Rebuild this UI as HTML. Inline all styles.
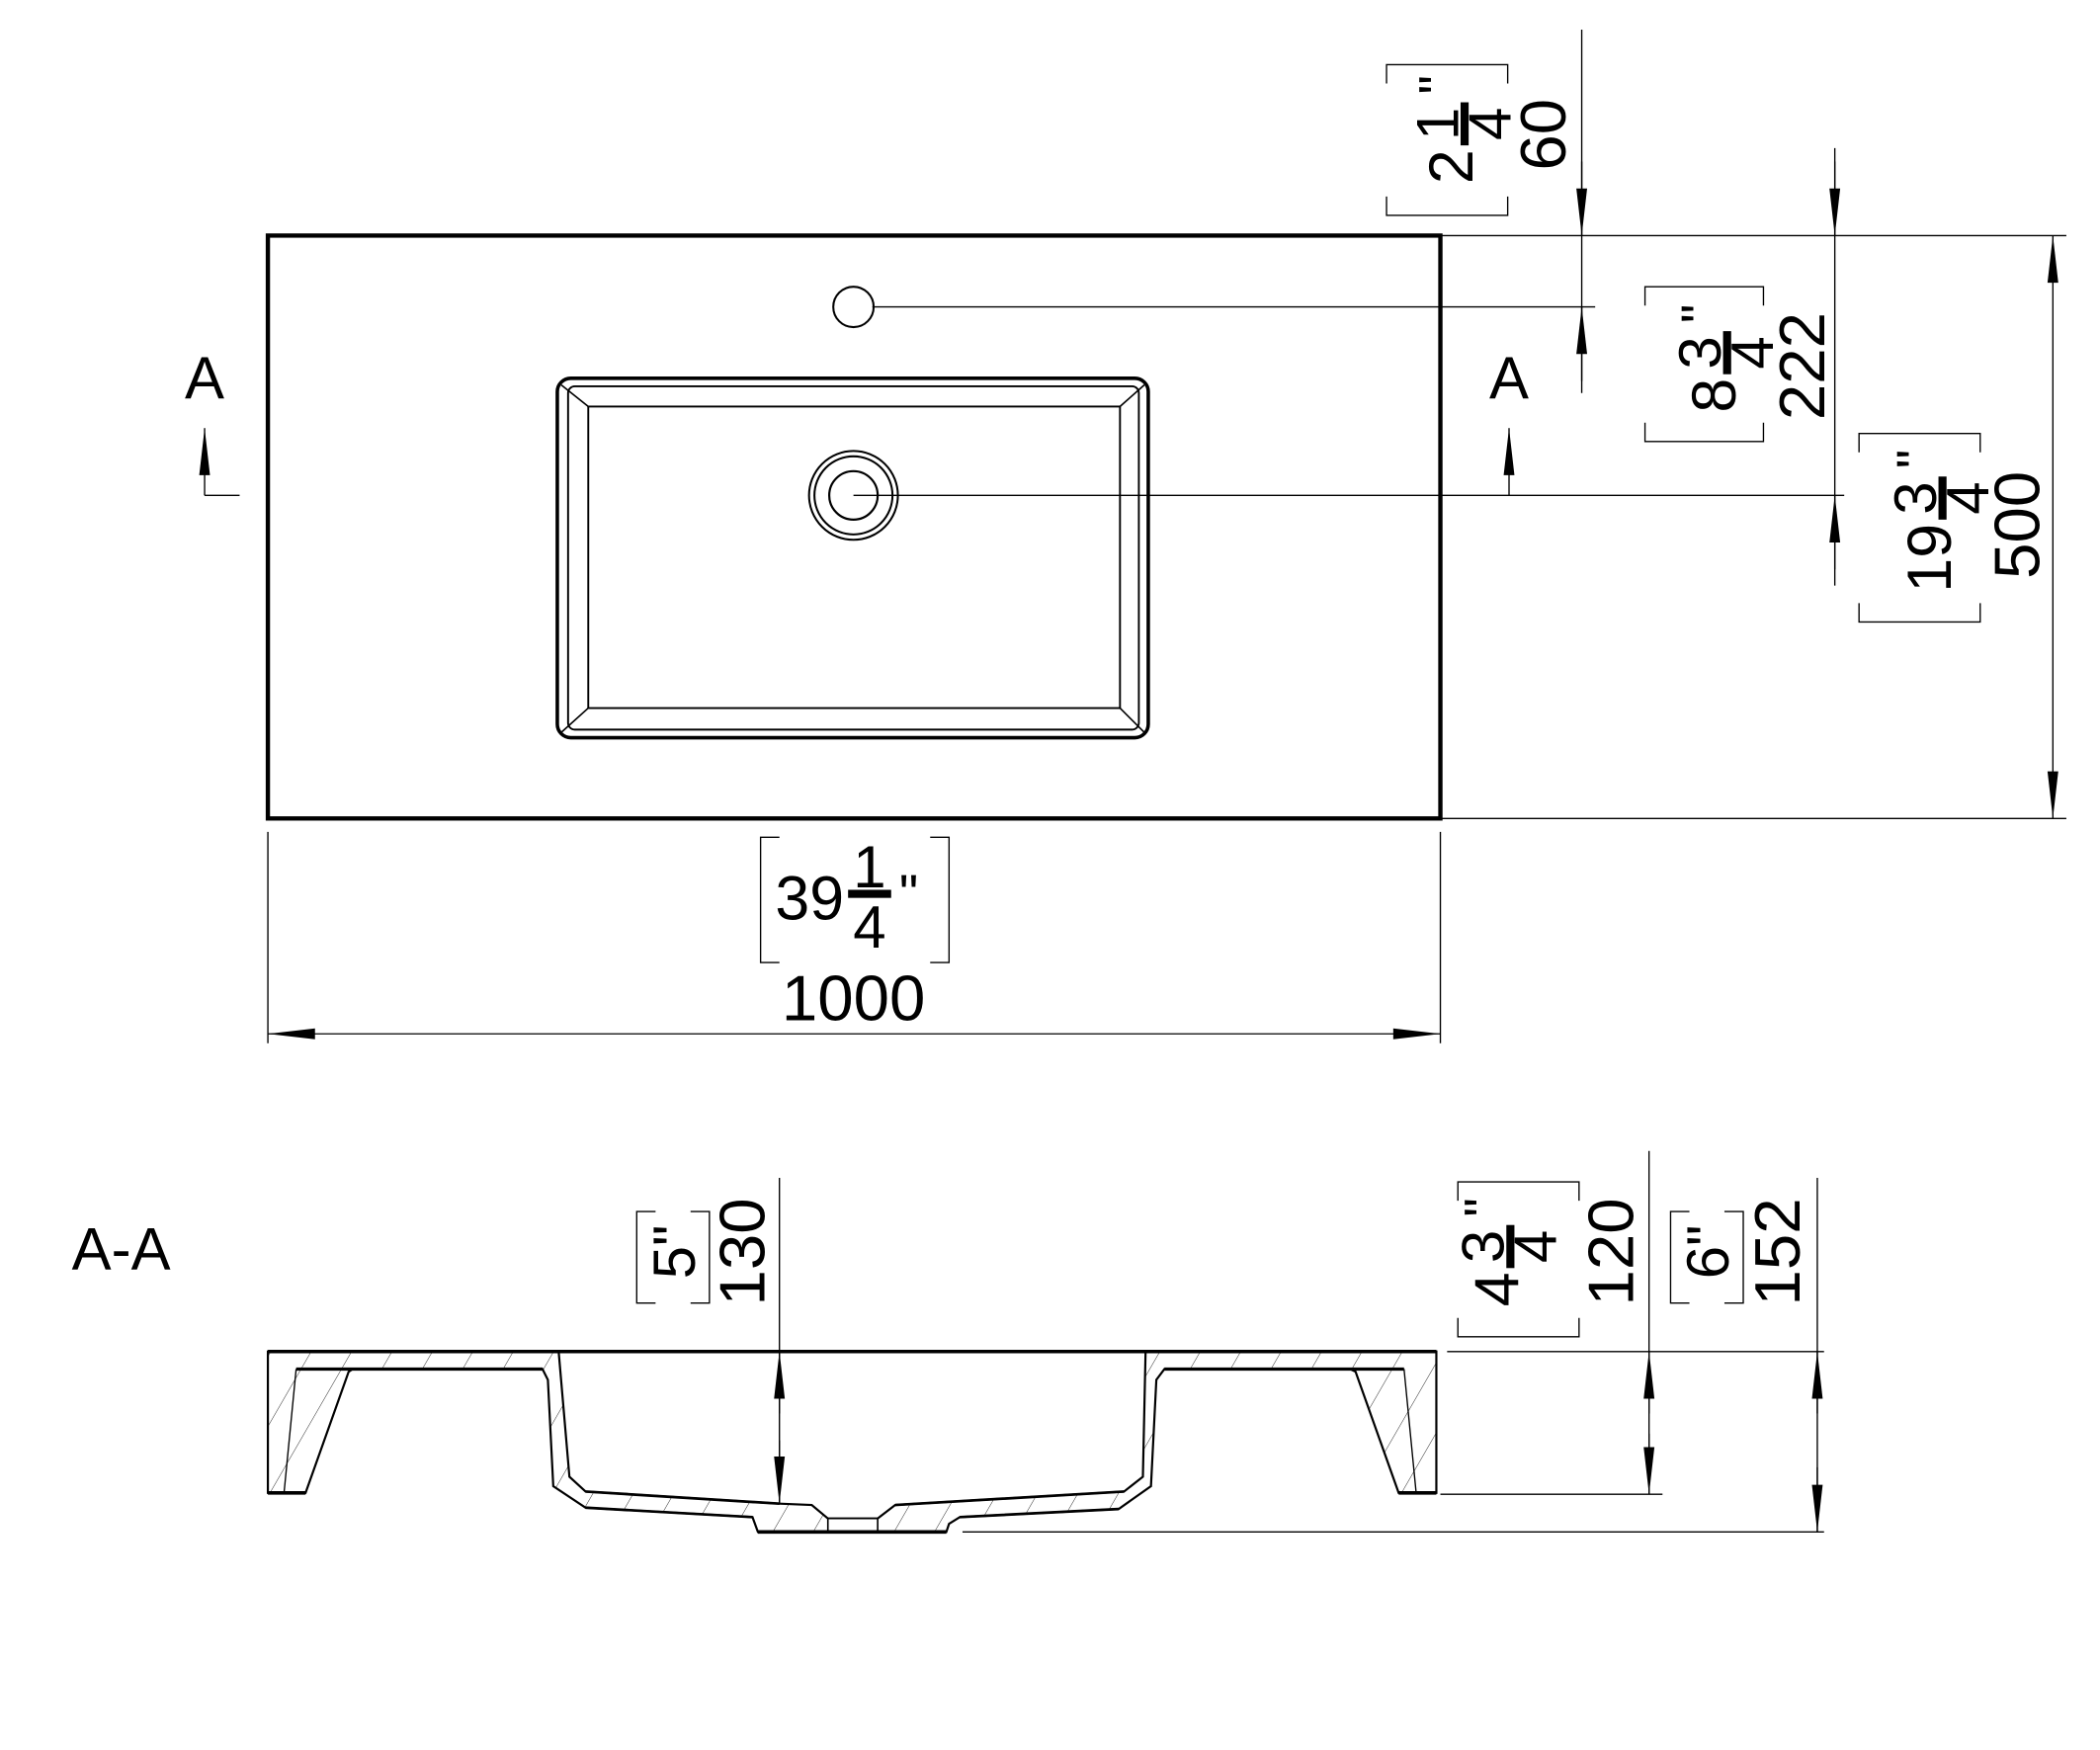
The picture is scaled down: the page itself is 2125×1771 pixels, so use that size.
<!DOCTYPE html>
<html><head><meta charset="utf-8"><style>
html,body{margin:0;padding:0;background:#fff;}
svg{display:block;}
text{font-family:"Liberation Sans",sans-serif;fill:#000;}
</style></head><body>
<svg width="2125" height="1771" viewBox="0 0 1560 1300" preserveAspectRatio="none" xmlns="http://www.w3.org/2000/svg">
<defs>
<marker id="a" markerUnits="userSpaceOnUse" markerWidth="40" markerHeight="12" viewBox="-36 -6 37 12" refX="0" refY="0" orient="auto-start-reverse">
<path d="M0,0 L-35,-4 L-35,4 z" fill="#000"/>
</marker>
<pattern id="h" patternUnits="userSpaceOnUse" width="26" height="26" patternTransform="rotate(30)">
<line x1="0" y1="0" x2="0" y2="26" stroke="#000" stroke-width="0.6"/>
</pattern>
</defs>
<rect width="1560" height="1300" fill="#fff"/>
<g fill="none" stroke="#000">
<rect x="199" y="175" width="871" height="433" stroke-width="3.2"/>
<circle cx="634" cy="228" r="15" stroke-width="1.5"/>
<rect x="414" y="281" width="439" height="267" rx="10" stroke-width="2.6"/>
<rect x="422" y="287" width="424" height="255" rx="5" stroke-width="1.4"/>
<rect x="437" y="302" width="395" height="224" stroke-width="1.4"/>
<path d="M417,286 L437,302 M850,286 L832,302 M417,544 L437,526 M850,544 L832,526" stroke-width="1.2"/>
<circle cx="634" cy="368" r="33" stroke-width="1.5"/>
<circle cx="634" cy="368" r="29" stroke-width="1.5"/>
<circle cx="634" cy="368" r="18" stroke-width="1.6"/>
<g stroke-width="1">
<line x1="648" y1="228" x2="1185" y2="228"/>
<line x1="634" y1="368" x2="1370" y2="368"/>
<line x1="1070" y1="175" x2="1535" y2="175"/>
<line x1="1070" y1="608" x2="1535" y2="608"/>
<line x1="1175" y1="22" x2="1175" y2="292"/>
<line x1="1363" y1="110" x2="1363" y2="435"/>
<line x1="199" y1="618" x2="199" y2="775"/>
<line x1="1070" y1="618" x2="1070" y2="775"/>
<line x1="152" y1="368" x2="178" y2="368"/>
</g>
<g stroke-width="1">
<path d="M1175,120 L1175,175" marker-end="url(#a)"/>
<path d="M1175,283 L1175,228" marker-end="url(#a)"/>
<path d="M1363,120 L1363,175" marker-end="url(#a)"/>
<path d="M1363,423 L1363,368" marker-end="url(#a)"/>
<path d="M1525,175 L1525,608" marker-start="url(#a)" marker-end="url(#a)"/>
<path d="M199,768 L1070,768" marker-start="url(#a)" marker-end="url(#a)"/>
<path d="M152,368 L152,318" marker-end="url(#a)"/>
<path d="M1121,368 L1121,318" marker-end="url(#a)"/>
</g>
<g stroke-width="1">
<path d="M1030,62 V48 H1120 V62 M1030,146 V160 H1120 V146"/>
<path d="M1222,227 V213 H1310 V227 M1222,314 V328 H1310 V314"/>
<path d="M1381,336 V322 H1471 V336 M1381,448 V462 H1471 V448"/>
<path d="M1083,892 V878 H1173 V892 M1083,979 V993 H1173 V979"/>
<path d="M487,900 H473 V968 H487 M513,900 H527 V968 H513"/>
<path d="M1255,900 H1241 V968 H1255 M1281,900 H1295 V968 H1281"/>
<path d="M579,622 H565 V715 H579 M691,622 H705 V715 H691"/>
</g>
<path d="M199,1004 H1067 V1109 H1039 L1007,1019 L1003,1017 H865 L859,1025 L855,1104 L831,1121 L713,1127 L705,1132 L703,1138 H563 L559,1127 L435,1120 L411,1104 L407,1025 L403,1017 H262 L259,1019 L227,1109 H199 Z" fill="url(#h)" stroke-width="1.6"/>
<path d="M415,1004 L423,1097 L435,1108 L579,1117 L603,1118 L615,1128 H652 L665,1118 L835,1108 L849,1097 L851,1004 Z" fill="#fff" stroke-width="1.6"/>
<rect x="615" y="1128" width="37" height="10" fill="#fff" stroke-width="1.2"/>
<path d="M199,1004 H1067" stroke-width="2.6"/>
<path d="M220,1017 H403 M865,1017 H1043" stroke-width="2.4"/>
<path d="M199,1109 H227 M1039,1109 H1067 M563,1138 H703" stroke-width="2.6"/>
<path d="M435,1108 L579,1117 M665,1118 L835,1108 M435,1120 L559,1127 M713,1127 L831,1121" stroke-width="2"/>
<path d="M220,1017 L211,1109 M1043,1017 L1052,1109" stroke-width="1"/>
<g stroke-width="1">
<line x1="579" y1="875" x2="579" y2="1117"/>
<line x1="1225" y1="855" x2="1225" y2="1110"/>
<line x1="1350" y1="875" x2="1350" y2="1138"/>
<line x1="1070" y1="1110" x2="1235" y2="1110"/>
<line x1="715" y1="1138" x2="1355" y2="1138"/>
<line x1="1075" y1="1004" x2="1355" y2="1004"/>
<path d="M579,1050 L579,1004" marker-end="url(#a)"/>
<path d="M579,1070 L579,1117" marker-end="url(#a)"/>
<path d="M1225,1050 L1225,1004" marker-end="url(#a)"/>
<path d="M1225,1065 L1225,1110" marker-end="url(#a)"/>
<path d="M1350,1050 L1350,1004" marker-end="url(#a)"/>
<path d="M1350,1090 L1350,1138" marker-end="url(#a)"/>
</g>
</g>
<text x="152" y="296" font-size="44" text-anchor="middle">A</text>
<text x="1121" y="296" font-size="44" text-anchor="middle">A</text>
<text x="90" y="943" font-size="44" text-anchor="middle">A-A</text>
<text x="634" y="758" font-size="48" text-anchor="middle">1000</text>
<g font-size="48" text-anchor="middle">
<text transform="translate(1146,100) rotate(-90)" y="17">60</text>
<text transform="translate(1338,272) rotate(-90)" y="17">222</text>
<text transform="translate(1498,390) rotate(-90)" y="17">500</text>
<text transform="translate(551,930) rotate(-90)" y="17">130</text>
<text transform="translate(1196,930) rotate(-90)" y="17">120</text>
<text transform="translate(1320,930) rotate(-90)" y="17">152</text>
<text transform="translate(500,930) rotate(-90)" y="16" font-size="44">5"</text>
<text transform="translate(1268,930) rotate(-90)" y="16" font-size="44">6"</text>
</g>
<g transform="translate(630,664)">
<text x="-3" y="19" font-size="46" text-anchor="end">39</text>
<text x="16" y="-5" font-size="44" text-anchor="middle">1</text>
<rect x="0" y="-3" width="32" height="6"/>
<text x="16" y="40" font-size="44" text-anchor="middle">4</text>
<text x="38" y="14" font-size="40">"</text>
</g>
<g transform="translate(1088,108) rotate(-90)">
<text x="-3" y="6" font-size="46" text-anchor="end">2</text>
<text x="16" y="-5" font-size="44" text-anchor="middle">1</text>
<rect x="0" y="-3" width="32" height="6"/>
<text x="16" y="34" font-size="44" text-anchor="middle">4</text>
<text x="38" y="-6" font-size="40">"</text>
</g>
<g transform="translate(1283,278) rotate(-90)">
<text x="-3" y="6" font-size="46" text-anchor="end">8</text>
<text x="16" y="-5" font-size="44" text-anchor="middle">3</text>
<rect x="0" y="-3" width="32" height="6"/>
<text x="16" y="34" font-size="44" text-anchor="middle">4</text>
<text x="38" y="-6" font-size="40">"</text>
</g>
<g transform="translate(1443,386) rotate(-90)">
<text x="-3" y="6" font-size="46" text-anchor="end">19</text>
<text x="16" y="-5" font-size="44" text-anchor="middle">3</text>
<rect x="0" y="-3" width="32" height="6"/>
<text x="16" y="34" font-size="44" text-anchor="middle">4</text>
<text x="38" y="-6" font-size="40">"</text>
</g>
<g transform="translate(1122,942) rotate(-90)">
<text x="-3" y="6" font-size="46" text-anchor="end">4</text>
<text x="16" y="-5" font-size="44" text-anchor="middle">3</text>
<rect x="0" y="-3" width="32" height="6"/>
<text x="16" y="34" font-size="44" text-anchor="middle">4</text>
<text x="38" y="-6" font-size="40">"</text>
</g>
</svg>
</body></html>
